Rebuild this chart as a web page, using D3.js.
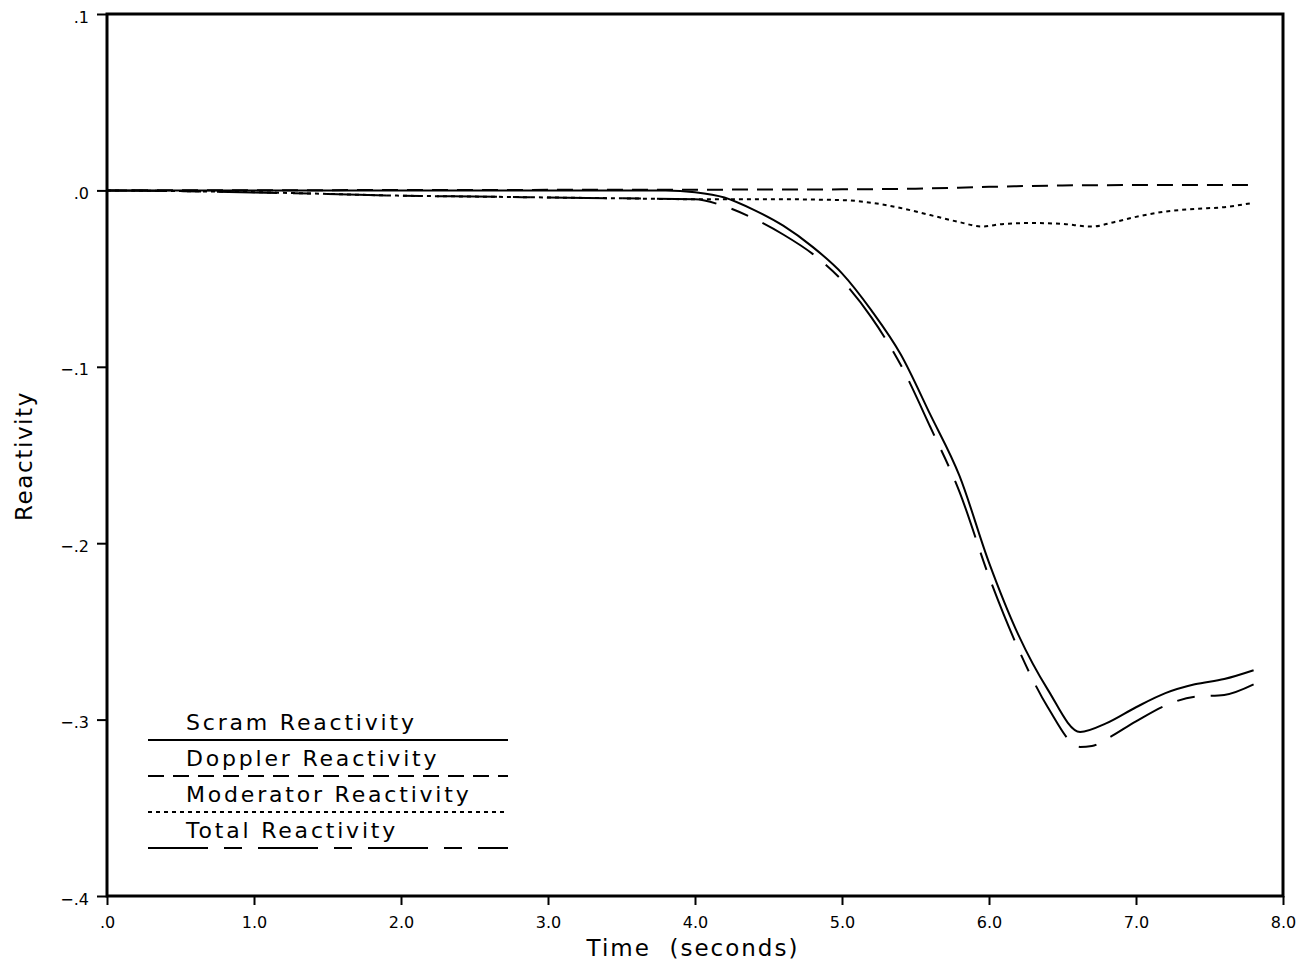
<!DOCTYPE html>
<html lang="en">
<head>
  <meta charset="UTF-8">
  <title>Reactivity vs time</title>
  <style>
    body { margin: 0; background: #fff; font-family: "DejaVu Sans", sans-serif; }
    svg text { fill: #000; }
  </style>
</head>
<body>
  <svg class="chart"></svg>
  <script src="https://cdn.jsdelivr.net/npm/d3@7"></script>
  <script>
    var w = 1307, h = 964;
    var margin = {left: 107, top: 14, right: 24, bottom: 68};

    var scramT   = [0, 1.0, 2.0, 3.0, 3.8, 4.0, 4.2, 4.4, 4.6, 4.8, 5.0, 5.2, 5.4, 5.6, 5.8, 6.0, 6.2, 6.4, 6.62, 6.8, 7.0, 7.2, 7.4, 7.6, 7.8];
    var scramV   = [0, 0, 0, 0, 0, -0.001, -0.004, -0.011, -0.020, -0.032, -0.047, -0.068, -0.093, -0.127, -0.162, -0.211, -0.252, -0.283, -0.307, -0.302, -0.293, -0.285, -0.280, -0.277, -0.272];

    var dopplerT = [0, 1.0, 2.0, 3.0, 4.0, 4.5, 5.0, 5.5, 6.0, 6.5, 7.0, 7.5, 7.8];
    var dopplerV = [0, 0.0001, 0.0002, 0.0003, 0.0004, 0.0005, 0.0006, 0.001, 0.002, 0.0028, 0.003, 0.003, 0.003];

    var modT     = [0, 0.5, 1.0, 1.5, 2.0, 2.5, 3.0, 3.5, 4.0, 4.5, 5.0, 5.2, 5.4, 5.6, 5.8, 5.95, 6.1, 6.3, 6.5, 6.7, 6.85, 7.0, 7.2, 7.4, 7.6, 7.8];
    var modV     = [0, -0.0004, -0.001, -0.002, -0.003, -0.0035, -0.004, -0.0045, -0.005, -0.005, -0.0055, -0.007, -0.010, -0.014, -0.018, -0.0205, -0.019, -0.0185, -0.019, -0.0205, -0.018, -0.015, -0.012, -0.0105, -0.0095, -0.007];

    var totalT   = [0, 0.5, 1.0, 1.5, 2.0, 2.5, 3.0, 3.5, 4.0, 4.2, 4.4, 4.6, 4.8, 5.0, 5.2, 5.4, 5.6, 5.8, 6.0, 6.2, 6.4, 6.62, 6.7, 6.8, 7.0, 7.2, 7.4, 7.6, 7.8];
    var totalV   = [0, -0.0005, -0.0012, -0.002, -0.003, -0.0035, -0.004, -0.0045, -0.005, -0.009, -0.016, -0.025, -0.036, -0.051, -0.072, -0.099, -0.134, -0.171, -0.219, -0.260, -0.293, -0.3155, -0.315, -0.311, -0.301, -0.292, -0.287, -0.286, -0.280];

    var xTicks = [0, 1, 2, 3, 4, 5, 6, 7, 8];
    var xTickLabels = [".0", "1.0", "2.0", "3.0", "4.0", "5.0", "6.0", "7.0", "8.0"];
    var yTicks = [0.1, 0, -0.1, -0.2, -0.3, -0.4];
    var yTickLabels = [".1", ".0", "\u2212.1", "\u2212.2", "\u2212.3", "\u2212.4"];

    var seriesNames = ["Scram Reactivity", "Doppler Reactivity", "Moderator Reactivity", "Total Reactivity"];
    var dashes = [null, "16,9", "4,4", "60,16,18,16"];

    var series = [
      {name: seriesNames[0], t: scramT, v: scramV, dash: dashes[0]},
      {name: seriesNames[1], t: dopplerT, v: dopplerV, dash: dashes[1]},
      {name: seriesNames[2], t: modT, v: modV, dash: dashes[2]},
      {name: seriesNames[3], t: totalT, v: totalV, dash: dashes[3]}
    ];

    var x = d3.scaleLinear().domain([0, 8]).range([margin.left, w - margin.right]);
    var y = d3.scaleLinear().domain([-0.4, 0.1]).range([h - margin.bottom, margin.top]);

    var svg = d3.select(".chart").attr("width", w).attr("height", h);

    var lineFun = d3.line()
      .x(d => x(d[0]))
      .y(d => y(d[1]))
      .curve(d3.curveMonotoneX);

    svg.selectAll("path.series")
      .data(series)
      .enter()
      .append("path")
      .attr("class", "series")
      .attr("d", s => lineFun(s.t.map((t, i) => [t, s.v[i]])))
      .attr("fill", "none")
      .attr("stroke", "#000")
      .attr("stroke-width", 2)
      .attr("stroke-dasharray", s => s.dash);

    // axes
    var xAxis = d3.axisBottom(x).tickValues(xTicks)
      .tickFormat((d, i) => xTickLabels[i]).tickSize(9).tickPadding(12);
    var yAxis = d3.axisLeft(y).tickValues(yTicks)
      .tickFormat((d, i) => yTickLabels[i]).tickSize(10).tickPadding(8);

    var gx = svg.append("g").attr("transform", "translate(0," + (h - margin.bottom) + ")").call(xAxis);
    var gy = svg.append("g").attr("transform", "translate(" + margin.left + ",0)").call(yAxis);
    [gx, gy].forEach(g => {
      g.select(".domain").remove();
      g.selectAll(".tick line").attr("stroke", "#000").attr("stroke-width", 2);
      g.selectAll(".tick text").attr("font-size", 16).attr("font-family", "DejaVu Sans, sans-serif").attr("fill", "#000");
    });
    gy.selectAll(".tick text").attr("dy", "0.5em");

    // frame
    svg.append("rect")
      .attr("x", margin.left).attr("y", margin.top)
      .attr("width", w - margin.left - margin.right)
      .attr("height", h - margin.top - margin.bottom)
      .attr("fill", "none").attr("stroke", "#000").attr("stroke-width", 3);

    // titles
    svg.append("text")
      .attr("x", (margin.left + w - margin.right) / 2 - 2).attr("y", 956)
      .attr("text-anchor", "middle").attr("font-size", 23).attr("letter-spacing", 2)
      .style("white-space", "pre")
      .text("Time  (seconds)");

    svg.append("text")
      .attr("transform", "translate(32,456) rotate(-90)")
      .attr("text-anchor", "middle").attr("font-size", 23).attr("letter-spacing", 1.6)
      .text("Reactivity");

    // legend
    var legend = svg.append("g").attr("transform", "translate(148,740)");
    var item = legend.selectAll("g")
      .data(series)
      .enter()
      .append("g")
      .attr("transform", (d, i) => "translate(0," + (i * 36) + ")");
    item.append("text")
      .attr("x", 38).attr("y", -10)
      .attr("font-size", 22).attr("letter-spacing", 2.8)
      .text(d => d.name);
    item.append("line")
      .attr("x1", 0).attr("x2", 360).attr("y1", 0).attr("y2", 0)
      .attr("stroke", "#000").attr("stroke-width", 2)
      .attr("stroke-dasharray", d => d.dash);
  </script>
</body>
</html>
